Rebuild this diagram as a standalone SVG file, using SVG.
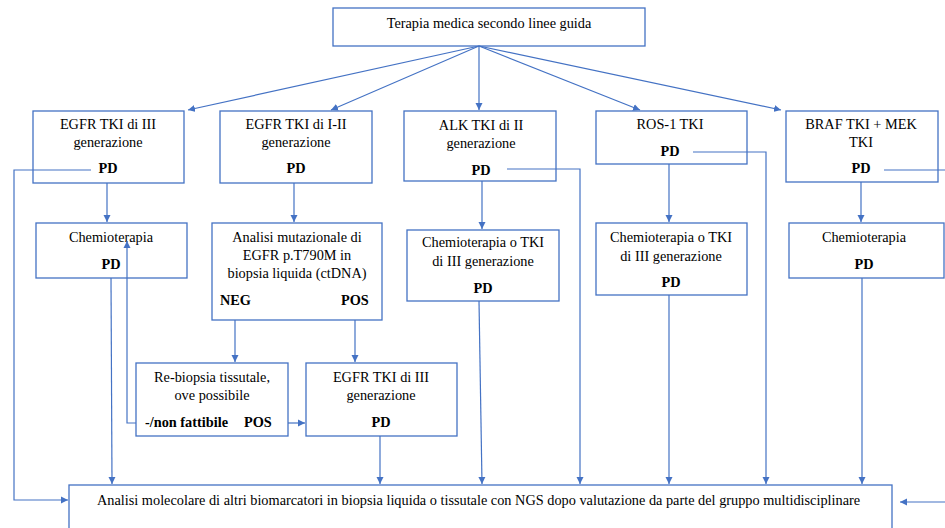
<svg xmlns="http://www.w3.org/2000/svg" width="945" height="528" viewBox="0 0 945 528">
<style>
.box{fill:#fff;stroke:#4472C4;stroke-width:1.3}
.t{font-family:"Liberation Serif","Times New Roman",serif;font-size:14.3px;fill:#000;text-anchor:middle}
.b{font-weight:bold}
.s{text-anchor:start}
.c{fill:none;stroke:#4472C4;stroke-width:1.2}
</style>
<defs>
<marker id="ah" markerWidth="8" markerHeight="8" refX="7" refY="4" orient="auto" markerUnits="userSpaceOnUse"><path d="M0,0.5 L7,4 L0,7.5 Z" fill="#4472C4"/></marker>
</defs>
<rect width="945" height="528" fill="#fff"/>
<g id="top"><rect class="box" x="333" y="8" width="312" height="38"/><text class="t" x="489" y="28">Terapia medica secondo linee guida</text></g>
<g id="egfr3"><rect class="box" x="33" y="111" width="151" height="72"/><text class="t" x="108" y="129">EGFR TKI di III</text><text class="t" x="108" y="147">generazione</text><text class="t b" x="108" y="173">PD</text></g>
<g id="chemio1"><rect class="box" x="36" y="223" width="151" height="55"/><text class="t" x="111" y="242">Chemioterapia</text><text class="t b" x="111" y="269">PD</text></g>
<g id="egfr12"><rect class="box" x="220" y="111" width="152" height="72"/><text class="t" x="296" y="129">EGFR TKI di I-II</text><text class="t" x="296" y="147">generazione</text><text class="t b" x="296" y="173">PD</text></g>
<g id="analisi"><rect class="box" x="212" y="223" width="170" height="97"/><text class="t" x="297" y="242">Analisi mutazionale di</text><text class="t" x="297" y="260">EGFR p.T790M in</text><text class="t" x="297" y="278">biopsia liquida (ctDNA)</text><text class="t b s" x="220" y="305">NEG</text><text class="t b s" x="341" y="305">POS</text></g>
<g id="rebiopsia"><rect class="box" x="136" y="363" width="152" height="73"/><text class="t" x="212" y="382">Re-biopsia tissutale,</text><text class="t" x="212" y="400">ove possibile</text><text class="t b s" x="145" y="427">-/non fattibile</text><text class="t b s" x="244" y="427">POS</text></g>
<g id="egfr3b"><rect class="box" x="306" y="363" width="151" height="73"/><text class="t" x="381" y="382">EGFR TKI di III</text><text class="t" x="381" y="400">generazione</text><text class="t b" x="381" y="427">PD</text></g>
<g id="alk"><rect class="box" x="404" y="111" width="152" height="70"/><text class="t" x="481" y="130">ALK TKI di II</text><text class="t" x="481" y="148">generazione</text><text class="t b" x="481" y="175">PD</text></g>
<g id="chemio2"><rect class="box" x="407" y="230" width="152" height="71"/><text class="t" x="483" y="247">Chemioterapia o TKI</text><text class="t" x="483" y="266">di III generazione</text><text class="t b" x="483" y="293">PD</text></g>
<g id="ros"><rect class="box" x="596" y="111" width="151" height="53"/><text class="t" x="670" y="129">ROS-1 TKI</text><text class="t b" x="670" y="156">PD</text></g>
<g id="chemio3"><rect class="box" x="596" y="223" width="151" height="72"/><text class="t" x="671" y="242">Chemioterapia o TKI</text><text class="t" x="671" y="261">di III generazione</text><text class="t b" x="671" y="287">PD</text></g>
<g id="braf"><rect class="box" x="786" y="111" width="152" height="71"/><text class="t" x="861" y="129">BRAF TKI + MEK</text><text class="t" x="861" y="147">TKI</text><text class="t b" x="861" y="173">PD</text></g>
<g id="chemio4"><rect class="box" x="789" y="223" width="155" height="55"/><text class="t" x="864" y="242">Chemioterapia</text><text class="t b" x="864" y="269">PD</text></g>
<g id="ngs"><rect class="box" x="69" y="485" width="823" height="60"/><text class="t s" x="97" y="505">Analisi molecolare di altri biomarcatori in biopsia liquida o tissutale con NGS dopo valutazione da parte del gruppo multidisciplinare</text></g>
<g id="connectors" class="c">
<path class="c" d="M479,46 L188,110" marker-end="url(#ah)"/>
<path class="c" d="M479,46 L331,110" marker-end="url(#ah)"/>
<path class="c" d="M479,46 L479,110" marker-end="url(#ah)"/>
<path class="c" d="M479,46 L640,110" marker-end="url(#ah)"/>
<path class="c" d="M479,46 L781,110" marker-end="url(#ah)"/>
<path class="c" d="M107,183 L107,222" marker-end="url(#ah)"/>
<path class="c" d="M294,183 L294,222" marker-end="url(#ah)"/>
<path class="c" d="M482,181 L482,229" marker-end="url(#ah)"/>
<path class="c" d="M669,164 L669,222" marker-end="url(#ah)"/>
<path class="c" d="M861,182 L861,222" marker-end="url(#ah)"/>
<path class="c" d="M235,320 L235,362" marker-end="url(#ah)"/>
<path class="c" d="M355,320 L355,362" marker-end="url(#ah)"/>
<path class="c" d="M288,423 L305,423" marker-end="url(#ah)"/>
<path class="c" d="M136,423 L127,423 L127,241" marker-end="url(#ah)"/>
<path class="c" d="M91,170 L14,170 L14,500 L68,500" marker-end="url(#ah)"/>
<path class="c" d="M111,278 L112,484" marker-end="url(#ah)"/>
<path class="c" d="M380,436 L380,484" marker-end="url(#ah)"/>
<path class="c" d="M479,301 L482,484" marker-end="url(#ah)"/>
<path class="c" d="M507,169 L580,169 L580,484" marker-end="url(#ah)"/>
<path class="c" d="M669,295 L669,484" marker-end="url(#ah)"/>
<path class="c" d="M693,152 L766,152 L766,484" marker-end="url(#ah)"/>
<path class="c" d="M862,278 L862,484" marker-end="url(#ah)"/>
<path class="c" d="M884,170 L945,170"/>
<path class="c" d="M945,502 L900,502" marker-end="url(#ah)"/>
</g>
</svg>
